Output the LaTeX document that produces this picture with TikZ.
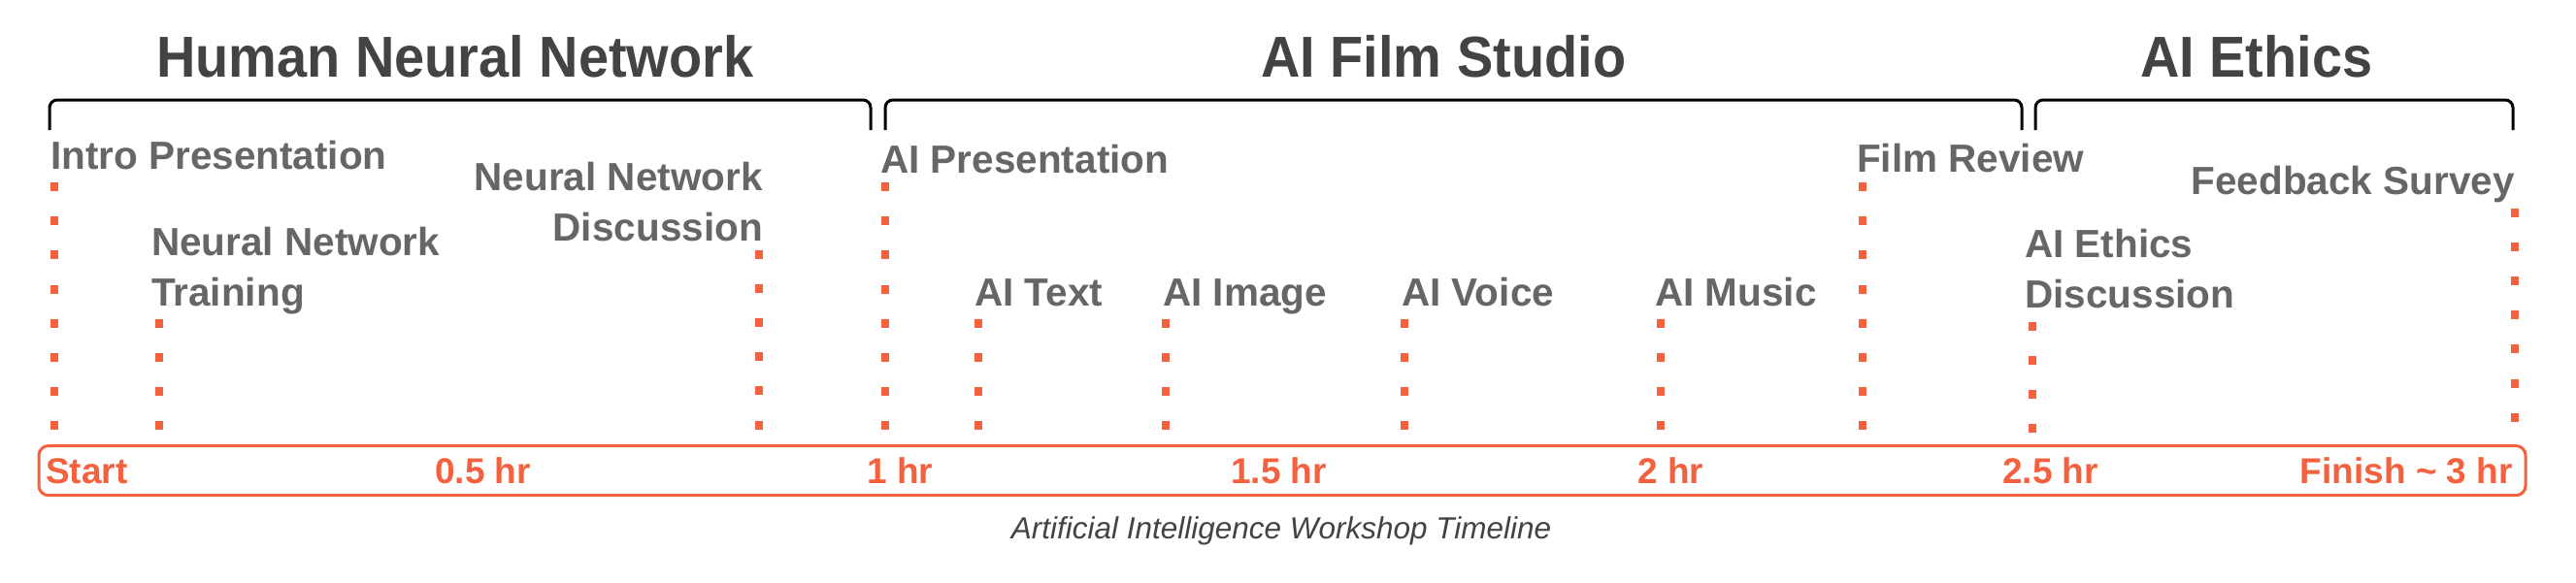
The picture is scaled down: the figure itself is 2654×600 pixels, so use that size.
\documentclass[tikz,border=0pt]{standalone}
\usepackage{fontspec}
\setmainfont{Liberation Sans}
\newfontfamily\titlefont{Liberation Sans}[FakeStretch=0.94]
\definecolor{orng}{HTML}{F3613F}
\definecolor{titlegray}{HTML}{434343}
\definecolor{labelgray}{HTML}{666666}
\tikzset{
  ttl/.style={font=\titlefont\bfseries\fontsize{59.5}{60}\selectfont, text=titlegray, inner sep=0pt, anchor=base west},
  evt/.style={font=\bfseries\fontsize{40.5}{52}\selectfont, text=labelgray, inner sep=0pt, anchor=base west},
  tickl/.style={font=\bfseries\fontsize{37}{40}\selectfont, text=orng, inner sep=0pt, anchor=base west},
  dotline/.style={draw=orng, line width=8pt, dash pattern=on 9pt off 26.2pt},
  brace/.style={draw=black, line width=3pt, rounded corners=8pt},
  bar/.style={draw=orng, line width=3pt, rounded corners=10pt},
  capt/.style={font=\itshape\fontsize{31.5}{34}\selectfont, text=titlegray, inner sep=0pt, anchor=base},
}
\begin{document}
\begin{tikzpicture}[x=1pt,y=-1pt]
\fill[white] (0,0) rectangle (2654,600);
\useasboundingbox (0,0) rectangle (2654,600);

% titles
\node[ttl] (t1) at (161,79) {Human Neural Network};
\node[ttl] (t2) at (1299,79) {AI Film Studio};
\node[ttl] (t3) at (2205,79) {AI Ethics};

% brackets
\coordinate (b1a) at (51,134); \coordinate (b1b) at (897,134);
\coordinate (b2a) at (912,134); \coordinate (b2b) at (2083,134);
\coordinate (b3a) at (2097,134); \coordinate (b3b) at (2589,134);
\draw[brace] (b1a) -- (b1a |- 0,103) -- (b1b |- 0,103) -- (b1b);
\draw[brace] (b2a) -- (b2a |- 0,103) -- (b2b |- 0,103) -- (b2b);
\draw[brace] (b3a) -- (b3a |- 0,103) -- (b3b |- 0,103) -- (b3b);

% event labels
\node[evt] (e1) at (52,174) {Intro Presentation};
\node[evt] (e2) at (156,263) {\begin{tabular}[t]{@{}l@{}}Neural Network\\Training\end{tabular}};
\node[evt, anchor=base east] (e3) at (786,196) {\begin{tabular}[t]{@{}r@{}}Neural Network\\Discussion\end{tabular}};
\node[evt] (e4) at (907,178) {AI Presentation};
\node[evt] (e5) at (1004,315) {AI Text};
\node[evt] (e6) at (1198,315) {AI Image};
\node[evt] (e7) at (1444,315) {AI Voice};
\node[evt] (e8) at (1705,315) {AI Music};
\node[evt] (e9) at (1913,177) {Film Review};
\node[evt] (e10) at (2086,265) {\begin{tabular}[t]{@{}l@{}}AI Ethics\\Discussion\end{tabular}};
\node[evt, anchor=base east] (e11) at (2591,200) {Feedback Survey};

% dotted markers
\coordinate (d1t) at (56,188);    \coordinate (d1b) at (56,444);
\coordinate (d2t) at (164,328.5); \coordinate (d2b) at (164,444);
\coordinate (d3t) at (782,257.5); \coordinate (d3b) at (782,444);
\coordinate (d4t) at (912,188);   \coordinate (d4b) at (912,444);
\coordinate (d5t) at (1008,328.5); \coordinate (d5b) at (1008,444);
\coordinate (d6t) at (1201,328.5); \coordinate (d6b) at (1201,444);
\coordinate (d7t) at (1447,328.5); \coordinate (d7b) at (1447,444);
\coordinate (d8t) at (1711,328.5); \coordinate (d8b) at (1711,444);
\coordinate (d9t) at (1919,188);   \coordinate (d9b) at (1919,444);
\coordinate (d10t) at (2094,331.5); \coordinate (d10b) at (2094,447);
\coordinate (d11t) at (2591,214.5); \coordinate (d11b) at (2591,436);
\foreach \i in {1,...,11} {\draw[dotline] (d\i t) -- (d\i b);}

% timeline bar
\coordinate (barL) at (40,459.5);
\coordinate (barR) at (2602,510.7);
\draw[bar] (barL) rectangle (barR);

\node[tickl] (k0) at (47,498) {Start};
\node[tickl] (k1) at (448,498) {0.5 hr};
\node[tickl] (k2) at (893,498) {1 hr};
\node[tickl] (k3) at (1268,498) {1.5 hr};
\node[tickl] (k4) at (1687,498) {2 hr};
\node[tickl] (k5) at (2063,498) {2.5 hr};
\node[tickl, anchor=base east] (k6) at (2589,498) {Finish \textasciitilde{} 3 hr};

% caption
\node[capt] (cap) at (1320,555) {Artificial Intelligence Workshop Timeline};
\end{tikzpicture}
\end{document}
